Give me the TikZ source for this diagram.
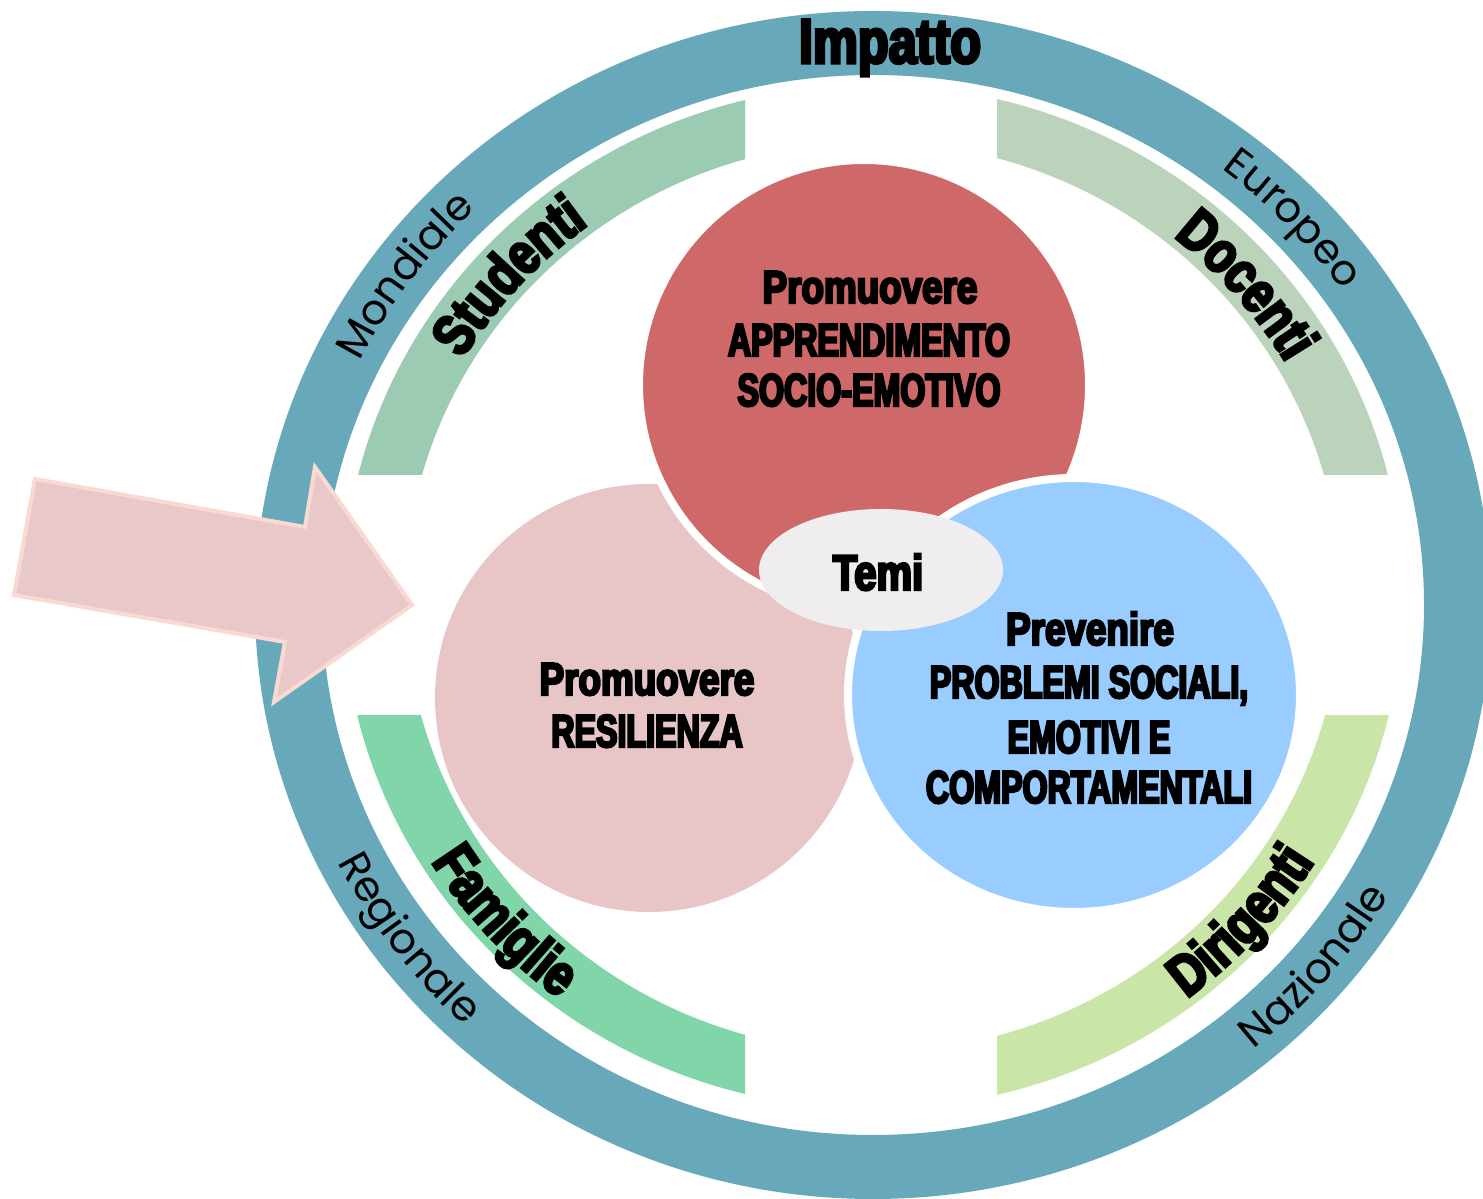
\documentclass[tikz,border=0pt]{standalone}
\usepackage{fontspec}
\setmainfont{Liberation Sans}
% heavy condensed faces for the titles, a light geometric face for the scale labels
\newfontfamily\impU{Liberation Sans}[FakeStretch=0.70, FakeBold=5]
\newfontfamily\impL{Liberation Sans}[FakeStretch=0.80, FakeBold=5]
\newfontfamily\lightf{Poppins}
\usetikzlibrary{decorations.text}

\definecolor{ringc}{HTML}{67A8BA}
\definecolor{studc}{HTML}{9CCBB3}
\definecolor{docc}{HTML}{BAD3BA}
\definecolor{famc}{HTML}{80D6A8}
\definecolor{dirc}{HTML}{C9E6A8}
\definecolor{redc}{HTML}{CF6868}
\definecolor{pinkc}{HTML}{E8C6C8}
\definecolor{bluec}{HTML}{99CCFF}
\definecolor{temic}{HTML}{EFEDEE}
\definecolor{arrowfill}{HTML}{E8C8C8}
\definecolor{arrowline}{HTML}{F9D9D2}

\tikzset{
  captext/.style={anchor=base, inner sep=0pt, font=\impU\bfseries\fontsize{46}{53}\selectfont},
  lowtext/.style={anchor=base, inner sep=0pt, font=\impL\bfseries\fontsize{46}{53}\selectfont},
  arctext/.style={decorate, decoration={text along path, text align=center, text={#1}}},
  band/.style={even odd rule},
}

\begin{document}
\begin{tikzpicture}[x=1pt,y=1pt]
\useasboundingbox (0,0) rectangle (1483,1199);
\clip (0,0) rectangle (1483,1199);
\fill[white] (0,0) rectangle (1483,1199);

% outer ring
\fill[ringc, band] (873,594) ellipse [x radius=618, y radius=594]
                   (873,594) ellipse [x radius=551, y radius=530];

% four inner bands, each a quarter of an elliptic annulus with straight cuts
\begin{scope}
  \clip (0,724) rectangle (745,1199);
  \fill[studc, band] (873,602) ellipse [x radius=530, y radius=512]
                     (873,602) ellipse [x radius=468, y radius=455];
\end{scope}
\begin{scope}
  \clip (997,724) rectangle (1483,1199);
  \fill[docc, band] (873,602) ellipse [x radius=530, y radius=512]
                    (873,602) ellipse [x radius=468, y radius=455];
\end{scope}
\begin{scope}
  \clip (0,0) rectangle (745,483);
  \fill[famc, band] (873,602) ellipse [x radius=530, y radius=512]
                    (873,602) ellipse [x radius=468, y radius=455];
\end{scope}
\begin{scope}
  \clip (997,0) rectangle (1483,483);
  \fill[dirc, band] (873,602) ellipse [x radius=530, y radius=512]
                    (873,602) ellipse [x radius=468, y radius=455];
\end{scope}

% the three themes
\fill[pinkc] (649,501) circle [radius=214];
\filldraw[fill=redc, draw=white, line width=8] (864,814) circle [radius=225];
\filldraw[fill=bluec, draw=white, line width=8] (1074,504) ellipse [x radius=226, y radius=217];
\fill[temic] (881,629) ellipse [x radius=122, y radius=61];

% entry arrow
\filldraw[fill=arrowfill, draw=arrowline, line width=4, line join=miter]
  (35,720) -- (305,672) -- (315,732) -- (412,594) -- (274,497) -- (285,557) -- (14,604) -- cycle;

% titles
\node[anchor=base, inner sep=0pt, font=\impL\bfseries\fontsize{63}{63}\selectfont] (impatto) at (890,1136) {Impatto};
\node[anchor=base, inner sep=0pt, font=\impL\bfseries\fontsize{50}{50}\selectfont] (temi) at (878,609) {Temi};

\node[lowtext] (r1) at (870,896) {Promuovere};
\node[captext] (r2) at (869,843) {APPRENDIMENTO};
\node[captext] (r3) at (869,793) {SOCIO-EMOTIVO};

\node[lowtext] (p1) at (647,504) {Promuovere};
\node[captext] (p2) at (647,452) {RESILIENZA};

\node[lowtext] (b1) at (1090,554) {Prevenire};
\node[captext] (b2) at (1089,501) {PROBLEMI SOCIALI,};
\node[captext] (b3) at (1089,446) {EMOTIVI E};
\node[captext] (b4) at (1089,396) {COMPORTAMENTALI};

% scale labels on the outer ring
\path[arctext={|\lightf\fontsize{42}{42}\selectfont|Mondiale}]
  (873,594) ++(170:572 and 550) arc[start angle=170, end angle=118, x radius=572, y radius=550];
\path[arctext={|\lightf\fontsize{42}{42}\selectfont|Europeo}]
  (873,594) ++(69.5:572 and 550) arc[start angle=69.5, end angle=17.5, x radius=572, y radius=550];
\path[arctext={|\lightf\fontsize{42}{42}\selectfont|Regionale}]
  (873,594) ++(190.6:598 and 576) arc[start angle=190.6, end angle=242.6, x radius=598, y radius=576];
\path[arctext={|\lightf\fontsize{42}{42}\selectfont|Nazionale}]
  (873,594) ++(293.8:598 and 576) arc[start angle=293.8, end angle=345.8, x radius=598, y radius=576];

% audience labels on the inner bands
\path[arctext={|\impL\bfseries\fontsize{58}{58}\selectfont|Studenti}]
  (873,602) ++(163.9:479 and 463) arc[start angle=163.9, end angle=111.9, x radius=479, y radius=463];
\path[arctext={|\impL\bfseries\fontsize{58}{58}\selectfont|Docenti}]
  (873,602) ++(66.6:479 and 463) arc[start angle=66.6, end angle=14.6, x radius=479, y radius=463];
\path[arctext={|\impL\bfseries\fontsize{58}{58}\selectfont|Famiglie}]
  (873,602) ++(196.1:519 and 504) arc[start angle=196.1, end angle=248.1, x radius=519, y radius=504];
\path[arctext={|\impL\bfseries\fontsize{58}{58}\selectfont|Dirigenti}]
  (873,602) ++(291.9:519 and 504) arc[start angle=291.9, end angle=343.9, x radius=519, y radius=504];
\end{tikzpicture}
\end{document}
